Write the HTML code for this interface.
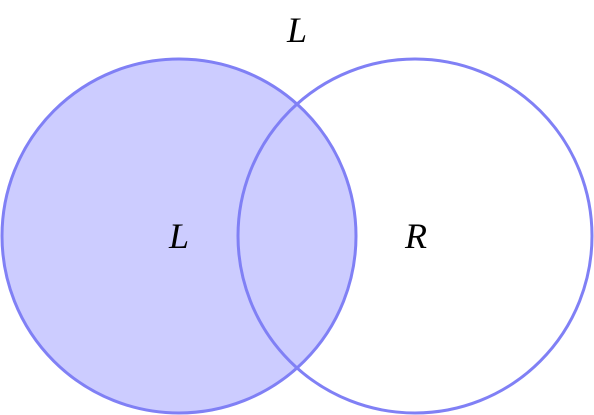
<!DOCTYPE html>
<html><head><meta charset="utf-8"><style>
html,body{margin:0;padding:0;background:#fff;}
svg{display:block;}
text{font-family:"Liberation Serif",serif;font-style:italic;font-size:36px;fill:#000;}
</style></head><body>
<svg width="594" height="415" viewBox="0 0 594 415">
<circle cx="179" cy="236" r="177" fill="#ccccff" stroke="none"/>
<circle cx="415" cy="236" r="177" fill="none" stroke="#8080f5" stroke-width="3"/>
<circle cx="179" cy="236" r="177" fill="none" stroke="#8080f5" stroke-width="3"/>
<text x="297" y="42" text-anchor="middle">L</text>
<text x="179" y="248" text-anchor="middle">L</text>
<text x="416" y="248" text-anchor="middle">R</text>
</svg>
</body></html>
